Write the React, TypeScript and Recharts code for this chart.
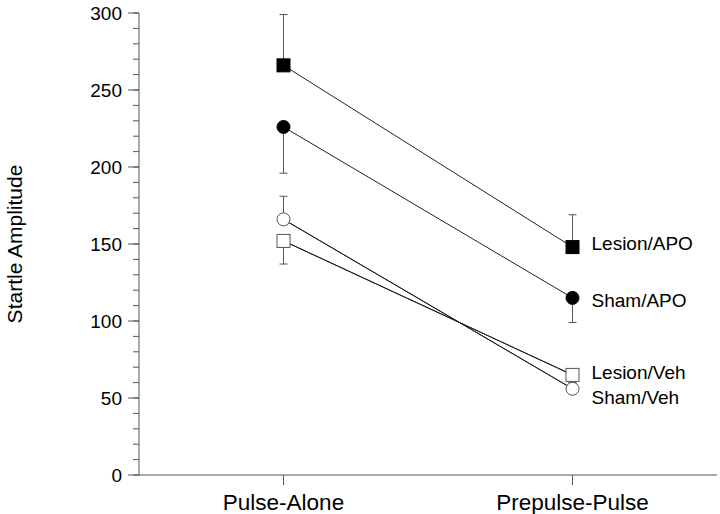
import { LineChart, Line, XAxis, YAxis, ErrorBar, LabelList, Label } from 'recharts';

const categories = ['Pulse-Alone', 'Prepulse-Pulse'];

// startle amplitude means, one-sided SEM as [below, above]
const lesionApo = [266, 148];
const lesionApoErr = [[0, 33], [0, 21]];
const shamApo = [226, 115];
const shamApoErr = [[30, 0], [16, 0]];
const lesionVeh = [152, 65];
const lesionVehErr = [[15, 0], [3.5, 0]];
const shamVeh = [166, 56];
const shamVehErr = [[0, 15], [0, 4]];

const yTicks = [
  0, 10, 20, 30, 40, 50, 60, 70, 80, 90, 100, 110, 120, 130, 140, 150,
  160, 170, 180, 190, 200, 210, 220, 230, 240, 250, 260, 270, 280, 290, 300,
];

const data = categories.map((category, i) => ({
  category,
  lesionApo: lesionApo[i],
  lesionApoErr: lesionApoErr[i],
  shamApo: shamApo[i],
  shamApoErr: shamApoErr[i],
  lesionVeh: lesionVeh[i],
  lesionVehErr: lesionVehErr[i],
  shamVeh: shamVeh[i],
  shamVehErr: shamVehErr[i],
}));

const FONT = '"Liberation Sans", Arial, Helvetica, sans-serif';
const AXIS = '#555';
const LINE = '#222';
const ERR = '#555';
const S = 6.5;

const square = (filled: boolean) => (p: any) => (
  <rect
    key={`sq-${filled}-${p.index}`}
    x={p.cx - S}
    y={p.cy - S}
    width={S * 2}
    height={S * 2}
    fill={filled ? '#000' : '#fff'}
    stroke={filled ? '#000' : '#555'}
    strokeWidth={1}
  />
);

const circle = (filled: boolean) => (p: any) => (
  <circle
    key={`ci-${filled}-${p.index}`}
    cx={p.cx}
    cy={p.cy}
    r={S}
    fill={filled ? '#000' : '#fff'}
    stroke={filled ? '#000' : '#555'}
    strokeWidth={1}
  />
);

const endLabel = (name: string, dy: number) => (p: any) =>
  p.index === 1 ? (
    <text
      key={name}
      x={p.x + 19}
      y={p.y + dy}
      dominantBaseline="central"
      fontSize={19}
      fontFamily={FONT}
      fill="#000"
    >
      {name}
    </text>
  ) : null;

const YTick = (props: any) => {
  const { x, y, payload } = props;
  if (payload.value % 50 !== 0) return <g />;
  const ax = x + 17;
  return (
    <g>
      <line x1={ax - 11} x2={ax} y1={y} y2={y} stroke={AXIS} strokeWidth={1} />
      <text
        x={x}
        y={y}
        textAnchor="end"
        dominantBaseline="central"
        fontSize={19}
        fontFamily={FONT}
        fill="#000"
      >
        {payload.value}
      </text>
    </g>
  );
};

export default function App() {
  return (
    <div style={{ position: 'absolute', left: 0, top: 0, background: '#fff' }}>
      <LineChart width={720} height={514} data={data} margin={{ top: 13, right: 3, left: 0, bottom: 0 }}>
        <XAxis
          dataKey="category"
          scale="band"
          height={39}
          tickSize={10}
          tickMargin={9}
          stroke={AXIS}
          tick={{ fontSize: 22.5, fontFamily: FONT, fill: '#000' }}
        />
        <YAxis
          type="number"
          domain={[0, 300]}
          ticks={yTicks}
          interval={0}
          width={139}
          tickSize={6}
          tickMargin={11}
          stroke={AXIS}
          tick={<YTick />}
        >
          <Label
            value="Startle Amplitude"
            angle={-90}
            position="insideLeft"
            offset={15}
            style={{ textAnchor: 'middle', fontSize: 21, fontFamily: FONT, fill: '#000' }}
          />
        </YAxis>

        <Line dataKey="lesionVeh" stroke={LINE} strokeWidth={1} dot={square(false)} isAnimationActive={false}>
          <ErrorBar dataKey="lesionVehErr" direction="y" width={4} stroke={ERR} strokeWidth={1} />
          <LabelList content={endLabel('Lesion/Veh', -2)} />
        </Line>
        <Line dataKey="shamVeh" stroke={LINE} strokeWidth={1} dot={circle(false)} isAnimationActive={false}>
          <ErrorBar dataKey="shamVehErr" direction="y" width={4} stroke={ERR} strokeWidth={1} />
          <LabelList content={endLabel('Sham/Veh', 9)} />
        </Line>
        <Line dataKey="lesionVeh" stroke={LINE} strokeWidth={1} dot={false} isAnimationActive={false} />
        <Line dataKey="shamVeh" stroke={LINE} strokeWidth={1} dot={false} isAnimationActive={false} />
        <Line dataKey="shamApo" stroke={LINE} strokeWidth={1} dot={circle(true)} isAnimationActive={false}>
          <ErrorBar dataKey="shamApoErr" direction="y" width={4} stroke={ERR} strokeWidth={1} />
          <LabelList content={endLabel('Sham/APO', 3)} />
        </Line>
        <Line dataKey="lesionApo" stroke={LINE} strokeWidth={1} dot={square(true)} isAnimationActive={false}>
          <ErrorBar dataKey="lesionApoErr" direction="y" width={4} stroke={ERR} strokeWidth={1} />
          <LabelList content={endLabel('Lesion/APO', -4)} />
        </Line>
      </LineChart>
    </div>
  );
}
